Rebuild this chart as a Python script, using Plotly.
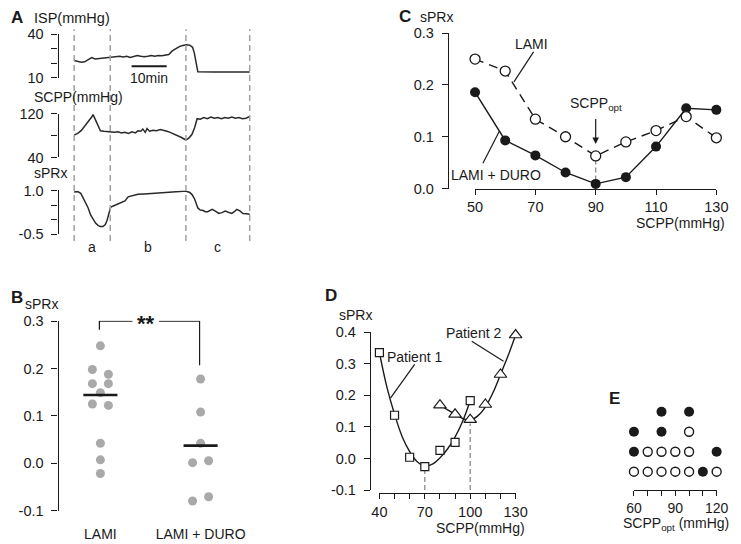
import plotly.graph_objects as go

W, H = 741, 544
def PX(x): return x / W
def PY(y): return 1 - y / H

FONT = "Liberation Sans, Arial, sans-serif"
INK = "#1a1a1a"
GRAY_DOT = "#a9a9a9"

# ---------------- Panel A data (time in minutes) ----------------
a_boundaries = [0, 10.3, 31.9, 50.1]
a_phase_labels = ["a", "b", "c"]
scale_bar_min = [16.4, 26.4]

isp_t = [0, 1, 2, 3, 4, 5, 6, 7, 8, 9, 10.3, 11, 12, 13, 14, 15, 16, 17, 18, 19, 20, 21, 22, 23, 24, 25, 26,
         27, 28, 29, 30, 31, 32, 33, 33.8, 34.3, 34.8, 35.3, 40, 45, 50.1]
isp_v = [22, 21.5, 20.8, 21, 22.5, 24, 23, 23.2, 23.8, 24, 24.2, 24.5, 24.6, 24.8, 24.3, 24.8, 24, 24.5, 25.3, 24.8,
         24.5, 24.8, 25.3, 24.9, 25.4, 25.2, 25.6, 26, 28.5, 30, 31.5, 32.3, 32.7, 32.5, 31, 27, 20, 14.2, 14.1, 14.1, 14.1]

scpp_t = [0, 1, 2, 3, 4, 5, 5.4, 6, 7, 7.5, 8.5, 10.4, 11.5, 12.5, 13.5, 14.5, 15.5, 16.5, 17.5, 18.2, 19, 19.6,
          20.3, 20.8, 21.5, 22.5, 23.5, 24.6, 25.5, 26.5, 27.4, 28.5, 29.5, 30.5, 31.9, 32.8, 33.6, 34.4, 35.1,
          36, 37, 38, 39, 40, 41, 42, 43, 44, 45, 46, 47, 48, 49, 50.1]
scpp_v = [81, 84, 89, 97, 105, 114, 118.5, 110, 95, 89, 88, 87, 86, 87, 85, 86, 84, 87, 85, 89, 88, 92, 86, 93,
          88, 90, 89, 91, 90, 88, 86, 83, 80, 77, 72, 76, 82, 95, 111, 110, 113, 111, 114, 112, 113, 111, 113,
          112, 114, 112, 113, 111, 112, 115]

sprx_t = [0, 1, 1.9, 2.6, 3.3, 4, 4.7, 5.4, 6.1, 6.8, 7.5, 8.2, 8.9, 9.4, 9.8, 10.4, 11, 11.7, 12.5, 13.5,
          14.5, 15.4, 16.5, 17.5, 18.2, 20, 22, 24, 26, 28, 30, 31.1, 32, 33, 33.7, 34.4, 35.3, 36, 36.7, 37.4,
          38.1, 38.8, 39.4, 40.3, 41.3, 42.2, 43.1, 44, 45, 45.7, 46.4, 47.3, 48.2, 49.2, 50.1]
sprx_v = [0.95, 0.96, 0.9, 0.75, 0.6, 0.4, 0.16, 0.02, -0.12, -0.2, -0.24, -0.24, -0.17, -0.02, 0.16, 0.42,
          0.46, 0.5, 0.52, 0.6, 0.64, 0.78, 0.82, 0.85, 0.87, 0.88, 0.9, 0.91, 0.93, 0.95, 0.96, 0.97, 0.97,
          0.93, 0.85, 0.7, 0.4, 0.33, 0.32, 0.27, 0.27, 0.32, 0.35, 0.29, 0.21, 0.24, 0.29, 0.25, 0.21, 0.27,
          0.35, 0.3, 0.21, 0.2, 0.18]

# ---------------- Panel B data ----------------
b_groups = ["LAMI", "LAMI + DURO"]
b_lami = [0.248, 0.198, 0.188, 0.168, 0.168, 0.149, 0.125, 0.122, 0.042, 0.007, -0.022]
b_lami_jitter = [0, -1, 1, -1, 1, 0, -1, 1, 0, 0, 0]
b_duro = [0.178, 0.108, 0.042, 0.001, 0.005, -0.080, -0.071]
b_duro_jitter = [0, 0, 0, -1, 1, -1, 1]
b_centers = [0.144, 0.037]
b_sig_text = "**"

# ---------------- Panel C data ----------------
c_scpp = [50, 60, 70, 80, 90, 100, 110, 120, 130]
c_lami = [0.250, 0.227, 0.134, 0.100, 0.063, 0.090, 0.112, 0.139, 0.098]
c_duro = [0.186, 0.093, 0.064, 0.031, 0.009, 0.022, 0.081, 0.155, 0.152]
c_opt = 90

# ---------------- Panel D data ----------------
d_p1_x = [40, 50, 60, 70, 80, 90, 100]
d_p1_y = [0.335, 0.137, 0.004, -0.026, 0.026, 0.051, 0.183]
d_p1_fit_x = [40, 45, 50, 55, 60, 65, 70, 75, 80, 85, 90, 95, 100]
d_p1_fit_y = [0.335, 0.225, 0.14, 0.07, 0.022, -0.01, -0.024, -0.018, 0.002, 0.03, 0.068, 0.118, 0.183]
d_p2_x = [80, 90, 100, 110, 120, 130]
d_p2_y = [0.169, 0.140, 0.123, 0.171, 0.266, 0.391]
d_p2_fit_x = [80, 90, 95, 100, 105, 110, 115, 120, 125, 130]
d_p2_fit_y = [0.169, 0.140, 0.127, 0.122, 0.135, 0.163, 0.208, 0.266, 0.325, 0.391]
d_opts = [70, 100]

# ---------------- Panel E data ----------------
e_opt_lami = [60, 70, 70, 80, 80, 90, 90, 100, 100, 100, 120]
e_opt_duro = [60, 60, 80, 80, 100, 110, 120]

fig = go.Figure()

TICK_FONT = dict(family=FONT, size=14.5, color=INK)
axis_style = dict(showgrid=False, zeroline=False, showline=True, linecolor=INK, linewidth=1.2,
                  ticks="outside", ticklen=6, tickwidth=1.2, tickcolor=INK, tickfont=TICK_FONT)
yaxis_style = dict(axis_style, ticklabelstandoff=5)

# ---- Panel A traces
for ax_id, tt, vv in [("", isp_t, isp_v), ("2", scpp_t, scpp_v), ("3", sprx_t, sprx_v)]:
    fig.add_trace(go.Scatter(x=tt, y=vv, mode="lines", line=dict(color="#2a2a2a", width=1.5),
                             xaxis="x" + ax_id, yaxis="y" + ax_id, hoverinfo="skip"))

a_x = dict(visible=False, domain=[PX(52), PX(252)], range=[-4.44, 51.1])
fig.update_layout(
    xaxis=dict(**a_x, anchor="y"),
    xaxis2=dict(**a_x, anchor="y2"),
    xaxis3=dict(**a_x, anchor="y3"),
    yaxis=dict(**yaxis_style, domain=[PY(72), PY(27)], range=[10, 40], anchor="x",
               tickvals=[10, 20, 30, 40], ticktext=["10", "", "", "40"]),
    yaxis2=dict(**yaxis_style, domain=[PY(154), PY(109)], range=[40, 120], anchor="x2",
                tickvals=[40, 80, 120], ticktext=["40", "", "120"]),
    yaxis3=dict(**yaxis_style, domain=[PY(233), PY(188)], range=[-0.5, 1.0], anchor="x3",
                tickvals=[-0.5, 0, 0.5, 1.0], ticktext=["-0.5", "", "", "1.0"]),
)

shapes = []
for tb in a_boundaries:
    shapes.append(dict(type="line", xref="x", yref="paper", x0=tb, x1=tb, y0=PY(240), y1=PY(22),
                       line=dict(color="#a0a0a0", width=1.5, dash="6px,4px")))
shapes.append(dict(type="line", xref="x", yref="paper", x0=scale_bar_min[0], x1=scale_bar_min[1],
                   y0=PY(60), y1=PY(60), line=dict(color=INK, width=2)))

annotations = []
def ann(text, x, y, xref="paper", yref="paper", size=14, xanchor="center", yanchor="middle", bold=False, color=INK):
    if bold:
        text = "<b>" + text + "</b>"
    annotations.append(dict(text=text, x=x, y=y, xref=xref, yref=yref, showarrow=False,
                            xanchor=xanchor, yanchor=yanchor,
                            font=dict(family=FONT, size=size, color=color)))

ann("A", PX(1), PY(10), xanchor="left", size=17, bold=True)
ann("ISP(mmHg)", PX(25), PY(10), xanchor="left", size=14.5)
ann("SCPP(mmHg)", PX(25), PY(92), xanchor="left")
ann("sPRx", PX(25), PY(170), xanchor="left")
ann("10min", sum(scale_bar_min) / 2, PY(72), xref="x")
for i, lab in enumerate(a_phase_labels):
    ann(lab, (a_boundaries[i] + a_boundaries[i + 1]) / 2, PY(246), xref="x")

# ---- Panel B
jit = 0.08
fig.add_trace(go.Scatter(x=[1 + j * jit for j in b_lami_jitter], y=b_lami, mode="markers",
                         marker=dict(color=GRAY_DOT, size=9), xaxis="x4", yaxis="y4", cliponaxis=False))
fig.add_trace(go.Scatter(x=[2 + j * jit for j in b_duro_jitter], y=b_duro, mode="markers",
                         marker=dict(color=GRAY_DOT, size=9), xaxis="x4", yaxis="y4", cliponaxis=False))
for gi, cval in enumerate(b_centers):
    fig.add_trace(go.Scatter(x=[gi + 1 - 0.17, gi + 1 + 0.17], y=[cval, cval], mode="lines",
                             line=dict(color=INK, width=2.6), xaxis="x4", yaxis="y4"))

fig.update_layout(
    xaxis4=dict(showgrid=False, zeroline=False, showline=False, ticks="", domain=[PX(52), PX(245)],
                range=[0.583, 2.457], anchor="y4", tickvals=[1, 2], ticktext=b_groups,
                tickfont=dict(family=FONT, size=14, color=INK), ticklabelstandoff=13),
    yaxis4=dict(**yaxis_style, domain=[PY(518.4), PY(322.0)], range=[-0.1015, 0.3015], anchor="x4",
                tickvals=[-0.1, 0, 0.1, 0.2, 0.3], ticktext=["-0.1", "0.0", "0.1", "0.2", "0.3"]),
)
sig_top = 0.3
shapes.append(dict(type="path", xref="x4", yref="y4",
                   path=f"M 0.99 0.282 L 0.99 {sig_top} L 1.32 {sig_top}", line=dict(color=INK, width=1.2)))
shapes.append(dict(type="path", xref="x4", yref="y4",
                   path=f"M 1.585 {sig_top} L 1.99 {sig_top} L 1.99 0.207", line=dict(color=INK, width=1.2)))
ann(b_sig_text, 1.455, 0.296, xref="x4", yref="y4", size=22, bold=True)
ann("B", PX(1), PY(298), xanchor="left", size=17, bold=True)
ann("sPRx", PX(15), PY(305), xanchor="left")

# ---- Panel C
fig.add_trace(go.Scatter(x=c_scpp, y=c_duro, mode="lines+markers", line=dict(color=INK, width=1.4),
                         marker=dict(color=INK, size=10), xaxis="x5", yaxis="y5", cliponaxis=False))
fig.add_trace(go.Scatter(x=c_scpp, y=c_lami, mode="lines+markers",
                         line=dict(color=INK, width=1.4, dash="9px,6px"),
                         marker=dict(color="white", size=10, line=dict(color=INK, width=1.3)),
                         xaxis="x5", yaxis="y5", cliponaxis=False))
fig.update_layout(
    xaxis5=dict(**{**axis_style, "ticklen": 5}, domain=[PX(480), PX(728)], range=[50, 130], anchor="y5",
                tickvals=[50, 70, 90, 110, 130]),
    yaxis5=dict(**yaxis_style, domain=[PY(186), PY(26)], range=[0, 0.3], anchor="free", position=PX(452),
                tickvals=[0, 0.1, 0.2, 0.3], ticktext=["0.0", "0.1", "0.2", "0.3"]),
)
c_opt_val = c_lami[c_scpp.index(c_opt)]
shapes.append(dict(type="line", xref="x5", yref="y5", x0=c_opt, x1=c_opt, y0=0, y1=c_opt_val - 0.01,
                   line=dict(color="#8a8a8a", width=1.3, dash="5px,3px"), layer="below"))
shapes.append(dict(type="line", xref="x5", yref="y5", x0=69.4, y0=0.264, x1=62.9, y1=0.206,
                   line=dict(color=INK, width=1.2)))
shapes.append(dict(type="line", xref="x5", yref="y5", x0=52.6, y0=0.049, x1=58.1, y1=0.111,
                   line=dict(color=INK, width=1.2)))
annotations.append(dict(x=c_opt, y=c_opt_val + 0.023, ax=c_opt, ay=0.137, xref="x5", yref="y5",
                        axref="x5", ayref="y5", showarrow=True, arrowhead=2, arrowsize=1.1,
                        arrowwidth=1.2, arrowcolor=INK, text=""))
ann("SCPP<sub>opt</sub>", c_opt, 0.163, xref="x5", yref="y5")
ann("LAMI", 68.7, 0.279, xref="x5", yref="y5")
ann("LAMI + DURO", 57.1, 0.027, xref="x5", yref="y5")
ann("SCPP(mmHg)", PX(739), PY(222), xanchor="right")
ann("C", PX(400), PY(9), xanchor="left", size=17, bold=True)
ann("sPRx", PX(421), PY(9), xanchor="left")

# ---- Panel D
fig.add_trace(go.Scatter(x=d_p1_fit_x, y=d_p1_fit_y, mode="lines", line=dict(color=INK, width=1.4, shape="spline"),
                         xaxis="x6", yaxis="y6"))
fig.add_trace(go.Scatter(x=d_p2_fit_x, y=d_p2_fit_y, mode="lines", line=dict(color=INK, width=1.4, shape="spline"),
                         xaxis="x6", yaxis="y6"))
fig.add_trace(go.Scatter(x=d_p1_x, y=d_p1_y, mode="markers",
                         marker=dict(symbol="square", color="white", size=8, line=dict(color=INK, width=1.2)),
                         xaxis="x6", yaxis="y6", cliponaxis=False))
fig.add_trace(go.Scatter(x=d_p2_x, y=d_p2_y, mode="markers",
                         marker=dict(symbol="triangle-up", color="white", size=11, line=dict(color=INK, width=1.2)),
                         xaxis="x6", yaxis="y6", cliponaxis=False))
fig.update_layout(
    xaxis6=dict(**{**axis_style, "ticklen": 5}, domain=[PX(381.7), PX(521.7)], range=[40, 130],
                anchor="free", position=PY(500),
                tickvals=list(range(40, 131, 10)),
                ticktext=["40", "", "", "70", "", "", "100", "", "", "130"]),
    yaxis6=dict(**yaxis_style, domain=[PY(496.7), PY(334)], range=[-0.1, 0.4], anchor="free", position=PX(372),
                tickvals=[-0.1, 0, 0.1, 0.2, 0.3, 0.4], ticktext=["-0.1", "0.0", "0.1", "0.2", "0.3", "0.4"]),
)
for xo in d_opts:
    yo = min(v for xv, v in zip(d_p1_x + d_p2_x, d_p1_y + d_p2_y) if xv == xo)
    shapes.append(dict(type="line", xref="x6", yref="y6", x0=xo, x1=xo, y0=-0.1, y1=yo - 0.012,
                       line=dict(color="#8a8a8a", width=1.3, dash="5px,3px"), layer="below"))
shapes.append(dict(type="line", xref="x6", yref="y6", x0=63.3, y0=0.298, x1=47.3, y1=0.191,
                   line=dict(color=INK, width=1.2)))
shapes.append(dict(type="line", xref="x6", yref="y6", x0=101.0, y0=0.371, x1=122.0, y1=0.308,
                   line=dict(color=INK, width=1.2)))
ann("Patient 1", 63.4, 0.32, xref="x6", yref="y6")
ann("Patient 2", 101.9, 0.397, xref="x6", yref="y6")
ann("SCPP(mmHg)", PX(486), PY(536))
ann("D", PX(324), PY(296), xanchor="left", size=17, bold=True)
ann("sPRx", PX(338), PY(316), xanchor="left")

# ---- Panel E (stacked dot plot: open = LAMI, filled = LAMI + DURO)
e_levels = sorted(set(e_opt_lami + e_opt_duro))
ex_o, ey_o, ex_f, ey_f = [], [], [], []
for xv in e_levels:
    n_o = e_opt_lami.count(xv)
    n_f = e_opt_duro.count(xv)
    for k in range(n_o):
        ex_o.append(xv); ey_o.append(k)
    for k in range(n_f):
        ex_f.append(xv); ey_f.append(n_o + k)
fig.add_trace(go.Scatter(x=ex_o, y=ey_o, mode="markers",
                         marker=dict(color="white", size=9, line=dict(color=INK, width=1.4)),
                         xaxis="x7", yaxis="y7", cliponaxis=False))
fig.add_trace(go.Scatter(x=ex_f, y=ey_f, mode="markers", marker=dict(color=INK, size=10),
                         xaxis="x7", yaxis="y7", cliponaxis=False))
fig.update_layout(
    xaxis7=dict(**{**axis_style, "ticklen": 5, "tickfont": dict(family=FONT, size=14, color=INK)},
                domain=[PX(643.3), PX(728.3)], range=[60, 120], anchor="y7",
                tickvals=list(range(60, 121, 10)), ticktext=["60", "", "", "90", "", "", "120"]),
    yaxis7=dict(visible=False, domain=[PY(496.7), PY(400)], range=[-0.923, 3.78], anchor="x7"),
)
ann("SCPP<sub>opt</sub> (mmHg)", PX(687), PY(531.5))
ann("E", PX(616), PY(402), xanchor="left", size=17, bold=True)

fig.update_layout(
    width=W, height=H, autosize=False, margin=dict(l=0, r=0, t=0, b=0),
    paper_bgcolor="white", plot_bgcolor="white", showlegend=False,
    font=dict(family=FONT, size=14, color=INK),
    shapes=shapes, annotations=annotations,
)

fig.write_html("out.html", config={"displayModeBar": False},
               post_script="document.body.style.margin='0px';document.body.style.overflow='hidden';")
